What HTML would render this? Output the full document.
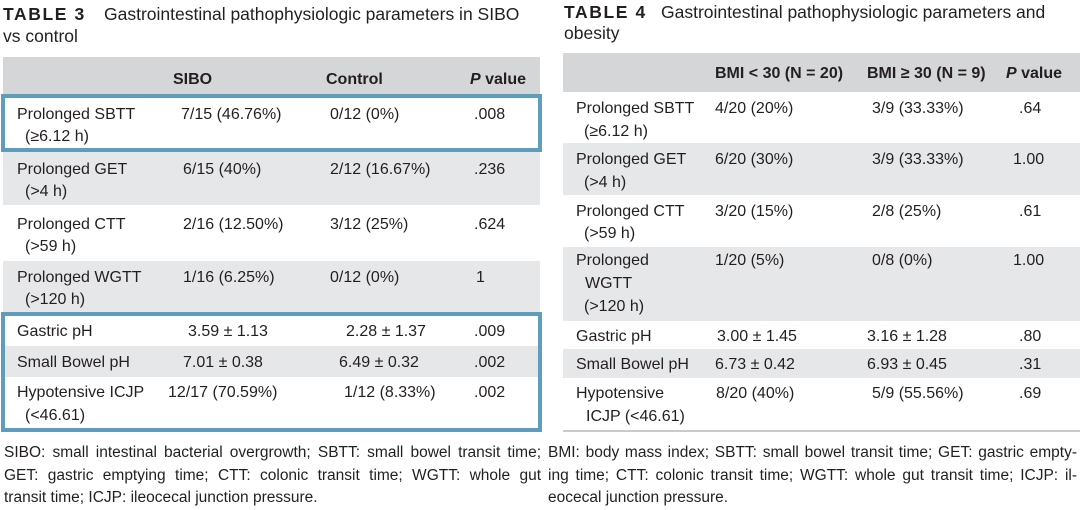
<!DOCTYPE html>
<html>
<head>
<meta charset="utf-8">
<style>
  html, body { margin:0; padding:0; }
  body { width:1080px; height:510px; position:relative; background:#ffffff; overflow:hidden;
         font-family:"Liberation Sans", Arial, sans-serif; color:#231f20; }
  .t { position:absolute; white-space:nowrap; font-size:16px; line-height:22px; }
  .b { font-weight:bold; }
  .ti { position:absolute; white-space:nowrap; font-size:17.5px; line-height:22px; }
  .lab { font-weight:bold; letter-spacing:1.6px; }
  .bg { position:absolute; }
  .hd { background:#d5d6d7; }
  .g { background:#e6e7e8; }
  .box { position:absolute; border:4px solid #5e9dbd; box-sizing:border-box; }
  .fn { position:absolute; font-size:15.5px; line-height:22px; text-align:justify; text-align-last:justify; }
  .fnl { position:absolute; font-size:15.5px; line-height:22px; white-space:nowrap; }
</style>
</head>
<body>

<!-- ================= TABLE 3 ================= -->
<div class="ti lab" style="left:3px; top:3px;">TABLE 3</div>
<div class="ti" style="left:104px; top:3px;">Gastrointestinal pathophysiologic parameters in SIBO</div>
<div class="ti" style="left:3px; top:25px;">vs control</div>

<div class="bg hd" style="left:3px; top:57px; width:537px; height:38px;"></div>
<div class="bg g" style="left:3px; top:151px; width:537px; height:54px;"></div>
<div class="bg g" style="left:3px; top:261px; width:537px; height:51px;"></div>
<div class="bg g" style="left:3px; top:346px; width:537px; height:31px;"></div>

<div class="t b" style="left:173px; top:68.5px;">SIBO</div>
<div class="t b" style="left:326px; top:68.5px;">Control</div>
<div class="t b" style="left:470px; top:68.5px;"><i>P</i> value</div>

<div class="t" style="left:17px; top:103.5px;">Prolonged SBTT</div>
<div class="t" style="left:25px; top:125.5px;">(≥6.12 h)</div>
<div class="t" style="left:181px; top:103.5px;">7/15 (46.76%)</div>
<div class="t" style="left:330px; top:103.5px;">0/12 (0%)</div>
<div class="t" style="left:474px; top:103.5px;">.008</div>

<div class="t" style="left:17px; top:158.5px;">Prolonged GET</div>
<div class="t" style="left:25px; top:180.5px;">(&gt;4 h)</div>
<div class="t" style="left:183px; top:158.5px;">6/15 (40%)</div>
<div class="t" style="left:330px; top:158.5px;">2/12 (16.67%)</div>
<div class="t" style="left:474px; top:158.5px;">.236</div>

<div class="t" style="left:17px; top:213.5px;">Prolonged CTT</div>
<div class="t" style="left:25px; top:235.5px;">(&gt;59 h)</div>
<div class="t" style="left:183px; top:213.5px;">2/16 (12.50%)</div>
<div class="t" style="left:330px; top:213.5px;">3/12 (25%)</div>
<div class="t" style="left:474px; top:213.5px;">.624</div>

<div class="t" style="left:17px; top:266.5px;">Prolonged WGTT</div>
<div class="t" style="left:25px; top:288.5px;">(&gt;120 h)</div>
<div class="t" style="left:183px; top:266.5px;">1/16 (6.25%)</div>
<div class="t" style="left:330px; top:266.5px;">0/12 (0%)</div>
<div class="t" style="left:476px; top:266.5px;">1</div>

<div class="t" style="left:17px; top:320.5px;">Gastric pH</div>
<div class="t" style="left:188px; top:320.5px;">3.59 ± 1.13</div>
<div class="t" style="left:346px; top:320.5px;">2.28 ± 1.37</div>
<div class="t" style="left:474px; top:320.5px;">.009</div>

<div class="t" style="left:17px; top:351.5px;">Small Bowel pH</div>
<div class="t" style="left:183px; top:351.5px;">7.01 ± 0.38</div>
<div class="t" style="left:339px; top:351.5px;">6.49 ± 0.32</div>
<div class="t" style="left:474px; top:351.5px;">.002</div>

<div class="t" style="left:17px; top:381.5px;">Hypotensive ICJP</div>
<div class="t" style="left:25px; top:404.5px;">(&lt;46.61)</div>
<div class="t" style="left:168px; top:381.5px;">12/17 (70.59%)</div>
<div class="t" style="left:344px; top:381.5px;">1/12 (8.33%)</div>
<div class="t" style="left:474px; top:381.5px;">.002</div>

<div class="box" style="left:1px; top:94px; width:541px; height:58px;"></div>
<div class="box" style="left:1px; top:312px; width:541px; height:120px;"></div>

<div class="fn" style="left:4px; top:441.6px; width:537px;">SIBO: small intestinal bacterial overgrowth; SBTT: small bowel transit time;</div>
<div class="fn" style="left:4px; top:464.6px; width:537px;">GET: gastric emptying time; CTT: colonic transit time; WGTT: whole gut</div>
<div class="fnl" style="left:4px; top:486.6px;">transit time; ICJP: ileocecal junction pressure.</div>

<!-- ================= TABLE 4 ================= -->
<div class="ti lab" style="left:564px; top:1px;">TABLE 4</div>
<div class="ti" style="left:661px; top:1px;">Gastrointestinal pathophysiologic parameters and</div>
<div class="ti" style="left:564px; top:22px;">obesity</div>

<div class="bg hd" style="left:563px; top:53px; width:517px; height:39px;"></div>
<div class="bg g" style="left:563px; top:143px; width:517px; height:52px;"></div>
<div class="bg g" style="left:563px; top:247px; width:517px; height:74px;"></div>
<div class="bg g" style="left:563px; top:349px; width:517px; height:29px;"></div>
<div class="bg" style="left:563px; top:430px; width:517px; height:2px; background:#c9cacb;"></div>

<div class="t b" style="left:715px; top:62.5px;">BMI &lt; 30 (N = 20)</div>
<div class="t b" style="left:867px; top:62.5px;">BMI ≥ 30 (N = 9)</div>
<div class="t b" style="left:1006px; top:62.5px;"><i>P</i> value</div>

<div class="t" style="left:576px; top:97.5px;">Prolonged SBTT</div>
<div class="t" style="left:584px; top:120.5px;">(≥6.12 h)</div>
<div class="t" style="left:715px; top:97.5px;">4/20 (20%)</div>
<div class="t" style="left:872px; top:97.5px;">3/9 (33.33%)</div>
<div class="t" style="left:1019px; top:97.5px;">.64</div>

<div class="t" style="left:576px; top:148.5px;">Prolonged GET</div>
<div class="t" style="left:584px; top:171.5px;">(&gt;4 h)</div>
<div class="t" style="left:715px; top:148.5px;">6/20 (30%)</div>
<div class="t" style="left:872px; top:148.5px;">3/9 (33.33%)</div>
<div class="t" style="left:1013px; top:148.5px;">1.00</div>

<div class="t" style="left:576px; top:200.5px;">Prolonged CTT</div>
<div class="t" style="left:584px; top:222.5px;">(&gt;59 h)</div>
<div class="t" style="left:715px; top:200.5px;">3/20 (15%)</div>
<div class="t" style="left:872px; top:200.5px;">2/8 (25%)</div>
<div class="t" style="left:1019px; top:200.5px;">.61</div>

<div class="t" style="left:576px; top:249.5px;">Prolonged</div>
<div class="t" style="left:585px; top:272.5px;">WGTT</div>
<div class="t" style="left:584px; top:295.5px;">(&gt;120 h)</div>
<div class="t" style="left:715px; top:249.5px;">1/20 (5%)</div>
<div class="t" style="left:872px; top:249.5px;">0/8 (0%)</div>
<div class="t" style="left:1013px; top:249.5px;">1.00</div>

<div class="t" style="left:576px; top:325.5px;">Gastric pH</div>
<div class="t" style="left:717px; top:325.5px;">3.00 ± 1.45</div>
<div class="t" style="left:867px; top:325.5px;">3.16 ± 1.28</div>
<div class="t" style="left:1019px; top:325.5px;">.80</div>

<div class="t" style="left:576px; top:353.5px;">Small Bowel pH</div>
<div class="t" style="left:715px; top:353.5px;">6.73 ± 0.42</div>
<div class="t" style="left:867px; top:353.5px;">6.93 ± 0.45</div>
<div class="t" style="left:1019px; top:353.5px;">.31</div>

<div class="t" style="left:576px; top:382.5px;">Hypotensive</div>
<div class="t" style="left:586px; top:405.5px;">ICJP (&lt;46.61)</div>
<div class="t" style="left:716px; top:382.5px;">8/20 (40%)</div>
<div class="t" style="left:872px; top:382.5px;">5/9 (55.56%)</div>
<div class="t" style="left:1019px; top:382.5px;">.69</div>

<div class="fn" style="left:548px; top:441.6px; width:529px;">BMI: body mass index; SBTT: small bowel transit time; GET: gastric empty-</div>
<div class="fn" style="left:548px; top:464.6px; width:529px;">ing time; CTT: colonic transit time; WGTT: whole gut transit time; ICJP: il-</div>
<div class="fnl" style="left:548px; top:486.6px;">eocecal junction pressure.</div>

</body>
</html>
